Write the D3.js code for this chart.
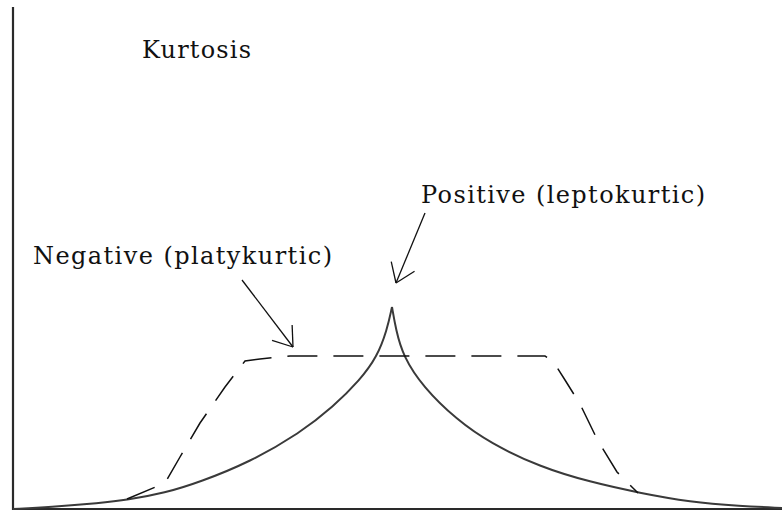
<!DOCTYPE html>
<html>
<head>
<meta charset="utf-8">
<script src="https://cdn.jsdelivr.net/npm/d3@7"></script>
<style>
  html, body { margin: 0; padding: 0; background: #fff; }
  svg { display: block; }
  text { font-family: "DejaVu Serif", "Liberation Serif", serif; fill: #111; }
</style>
</head>
<body>
<svg id="chart" width="782" height="513"></svg>
<script>
// Leptokurtic (positive kurtosis) curve: sharp cusp at the mean, long tails
const leptoX = [-3.79, -3.42, -2.92, -2.65, -2.27, -1.92, -1.42, -0.92, -0.59, -0.32, -0.15, -0.05, 0.00,
                0.04, 0.11, 0.31, 0.65, 0.98, 1.48, 1.98, 2.48, 2.98, 3.48, 3.90];
const leptoY = [0.00, 0.02, 0.06, 0.09, 0.16, 0.27, 0.47, 0.76, 1.02, 1.29, 1.52, 1.79, 2.02,
                1.79, 1.53, 1.22, 0.89, 0.66, 0.42, 0.27, 0.16, 0.07, 0.03, 0.01];

// Platykurtic (negative kurtosis) curve: broad flat top, steep shoulders
const platyX = [-2.65, -2.27, -2.12, -1.92, -1.67, -1.47, -1.32, -1.02, 1.53, 1.61, 1.73, 1.88, 2.06, 2.25, 2.46];
const platyY = [0.10, 0.26, 0.52, 0.86, 1.22, 1.48, 1.50, 1.53, 1.53, 1.48, 1.29, 1.05, 0.68, 0.37, 0.16];

// Annotation text and arrows (data coordinates)
const titleText = "Kurtosis";
const labelNames = ["Positive (leptokurtic)", "Negative (platykurtic)"];
const labelX = [0.29, -3.59];
const labelY = [3.06, 2.45];
const arrowFromX = [0.33, -1.50];
const arrowFromY = [2.96, 2.29];
const arrowToX = [0.04, -0.99];
const arrowToY = [2.26, 1.62];

const svg = d3.select("#chart");

const x = d3.scaleLinear().domain([-3.79, 3.90]).range([13, 782]);
const y = d3.scaleLinear().domain([0, 5.02]).range([509, 7]);

// Axes: plain frame lines on the left and bottom
svg.append("line")
  .attr("x1", x(-3.79)).attr("x2", x(-3.79))
  .attr("y1", y(5.02)).attr("y2", y(0) + 1)
  .attr("stroke", "#2a2a2a").attr("stroke-width", 2.2);
svg.append("line")
  .attr("x1", x(-3.79) - 1).attr("x2", x(3.90))
  .attr("y1", y(0)).attr("y2", y(0))
  .attr("stroke", "#2a2a2a").attr("stroke-width", 2.2);

// Leptokurtic curve drawn as two arms meeting at the cusp
const peak = leptoY.indexOf(d3.max(leptoY));
const lepto = leptoX.map((v, i) => [v, leptoY[i]]);
const arm = d3.line().x(d => x(d[0])).y(d => y(d[1])).curve(d3.curveBasis);
[lepto.slice(0, peak + 1), lepto.slice(peak)].forEach(pts => {
  svg.append("path")
    .attr("d", arm(pts))
    .attr("fill", "none")
    .attr("stroke", "#3a3a3a")
    .attr("stroke-width", 2);
});

// Platykurtic curve, dashed
const platy = platyX.map((v, i) => [v, platyY[i]]);
svg.append("path")
  .attr("d", d3.line().x(d => x(d[0])).y(d => y(d[1])).curve(d3.curveLinear)(platy))
  .attr("fill", "none")
  .attr("stroke", "#111")
  .attr("stroke-width", 1.5)
  .attr("stroke-dasharray", "30,16");

// Title
svg.append("text")
  .attr("x", x(-2.50)).attr("y", y(4.51))
  .attr("font-size", 24)
  .attr("textLength", 109).attr("lengthAdjust", "spacing")
  .text(titleText);

// Labels
const labelWidths = [284, 299];
labelNames.forEach((t, i) => {
  svg.append("text")
    .attr("x", x(labelX[i])).attr("y", y(labelY[i]))
    .attr("font-size", 24)
    .attr("textLength", labelWidths[i]).attr("lengthAdjust", "spacing")
    .text(t);
});

// Arrows with open heads
arrowFromX.forEach((fx, i) => {
  const x0 = x(fx), y0 = y(arrowFromY[i]);
  const x1 = x(arrowToX[i]), y1 = y(arrowToY[i]);
  const g = svg.append("g").attr("stroke", "#111").attr("stroke-width", 1.3).attr("fill", "none");
  g.append("line").attr("x1", x0).attr("y1", y0).attr("x2", x1).attr("y2", y1);
  const back = Math.atan2(y0 - y1, x0 - x1);
  const len = 22, spread = 35 * Math.PI / 180;
  [-spread, spread].forEach(s => {
    g.append("line")
      .attr("x1", x1).attr("y1", y1)
      .attr("x2", x1 + len * Math.cos(back + s))
      .attr("y2", y1 + len * Math.sin(back + s));
  });
});
</script>
</body>
</html>
